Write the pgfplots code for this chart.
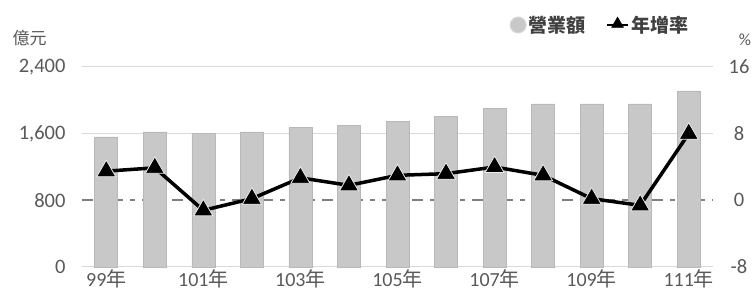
\documentclass[border=0pt]{standalone}
\usepackage{pgfplots}
\pgfplotsset{compat=1.18}
\usepackage{fontspec}
\setmainfont{Carlito}
\newfontfamily\cjk{Noto Sans CJK TC}
\definecolor{txt}{HTML}{595959}
\definecolor{legt}{HTML}{404040}
\definecolor{barc}{HTML}{C8C8C8}
\definecolor{bare}{HTML}{B8B8B8}
\definecolor{gridc}{HTML}{D9D9D9}
\definecolor{dashc}{HTML}{7F7F7F}
\begin{document}
\begin{tikzpicture}[x=1pt,y=1pt]
\path[use as bounding box] (-82,-27) rectangle (673,267);
\begin{axis}[
  at={(0,0)}, anchor=south west,
  scale only axis, width=631pt, height=200pt,
  xmin=-0.5, xmax=12.5, ymin=0, ymax=2400,
  axis x line*=bottom, axis y line*=left,
  x axis line style={draw=gridc, line width=1pt, -},
  y axis line style={draw=none},
  xtick={0,2,...,12},
  xticklabels={99{\cjk 年},101{\cjk 年},103{\cjk 年},105{\cjk 年},107{\cjk 年},109{\cjk 年},111{\cjk 年}},
  x tick label style={font=\fontsize{20}{20}\selectfont, text=txt, yshift=1pt},
  ytick={0,800,1600,2400},
  yticklabels={0,800,{1,600},{2,400}},
  y tick label style={font=\fontsize{20.5}{20.5}\selectfont, text=txt, xshift=-13pt},
  major tick length=0pt,
  clip=false,
]
\draw[gridc, line width=1pt] (axis cs:-0.5,1600) -- (axis cs:12.5,1600);
\draw[gridc, line width=1pt] (axis cs:-0.5,2400) -- (axis cs:12.5,2400);
\draw[dashc, line width=2pt, dash pattern=on 11pt off 7pt on 5pt off 7pt] (axis cs:-0.5,800) -- (axis cs:12.5,800);
\addplot[ybar, bar width=23pt, fill=barc, draw=bare, line width=0.6pt] coordinates {
(0,1560) (1,1620) (2,1604) (3,1620) (4,1672) (5,1696) (6,1748) (7,1804) (8,1900) (9,1956) (10,1956) (11,1956) (12,2112)};
\end{axis}
\begin{axis}[
  at={(0,0)}, anchor=south west,
  scale only axis, width=631pt, height=200pt,
  xmin=-0.5, xmax=12.5, ymin=-8, ymax=16,
  axis x line=none, axis y line*=right,
  y axis line style={draw=none},
  ytick={-8,0,8,16},
  y tick label style={font=\fontsize{20.5}{20.5}\selectfont, text=txt, anchor=center, xshift=26pt},
  /pgf/number format/assume math mode=true,
  major tick length=0pt,
  clip=false,
  legend style={at={(0.821,1.21)}, anchor=center, draw=none, fill=none,
    font=\fontsize{19}{19}\selectfont\cjk\bfseries, text=legt,
    legend columns=2, /tikz/every even column/.append style={column sep=18pt}},
  legend cell align=left,
]
\addlegendimage{legend image code/.code={\fill[barc, draw=gridc, line width=1pt] (0.2cm,0) circle (8pt);}}
\addlegendentry{營業額}
\addlegendimage{legend image code/.code={\draw[black, line width=2.5pt] (0.05cm,0) -- (0.8cm,0); \fill[black] (0.425cm,0) ++(90:8pt) -- ++(240:12pt) -- ++(0:12pt) -- cycle;}}
\addlegendentry{年增率}
\addplot[black, line width=3.5pt, mark=triangle*, mark size=11pt, mark options={fill=black, draw=white!85!gray, line width=0.8pt}] coordinates {
(0,3.5) (1,3.9) (2,-1.2) (3,0.2) (4,2.7) (5,1.8) (6,3.0) (7,3.2) (8,4.0) (9,3.0) (10,0.2) (11,-0.6) (12,8.0)};
\end{axis}
\node[text=txt, font=\fontsize{17}{17}\selectfont\cjk, anchor=west] at (-73,229) {億元};
\node[text=txt, font=\fontsize{17}{17}\selectfont, anchor=center] at (663,227) {\%};
\end{tikzpicture}
\end{document}
